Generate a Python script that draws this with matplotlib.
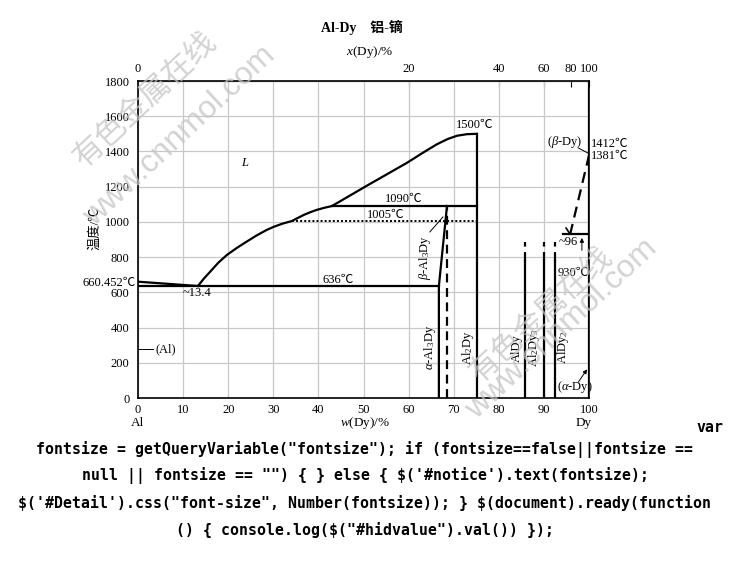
import matplotlib
matplotlib.use('Agg')
import matplotlib.pyplot as plt
import numpy as np

plt.rcParams['font.family'] = ['Liberation Serif', 'Noto Sans CJK SC', 'DejaVu Sans']
plt.rcParams['mathtext.fontset'] = 'custom'
plt.rcParams['mathtext.rm'] = 'Liberation Serif'
plt.rcParams['mathtext.it'] = 'Liberation Serif:italic'

# liquidus of the Al-rich side up to the Al2Dy maximum (w in wt.% Dy, t in C)
liquidus_w = [13.3, 14.6, 16.0, 17.8, 19.7, 21.9, 24.1, 26.3, 28.5, 30.1, 31.9, 34.1,
              35.4, 36.7, 38.2, 39.6, 41.3, 43.0, 50.7, 59.6, 63.0, 66.2,
              68.6, 70.7, 72.9, 75.1]
liquidus_t = [636, 678, 717, 768, 812, 852, 888, 923, 954, 972, 989, 1005,
              1022, 1039, 1055, 1068, 1080, 1090, 1205, 1335, 1390, 1440,
              1470, 1489, 1498, 1500]
al_liq_w = [0, 13.3]
al_liq_t = [660.452, 636]

eutectic_w = [0, 66.7]
eutectic_t = [636, 636]
peritectic_w = [43.0, 75.1]
peritectic_t = [1090, 1090]
transform_w = [34.1, 75.1]
transform_t = [1005, 1005]

al3dy_w = [66.7, 66.7, 68.5]
al3dy_t = [0, 636, 1090]
al3dy_dash_w = [68.5, 68.5]
al3dy_dash_t = [0, 1090]
al2dy_w = [75.1, 75.1]
al2dy_t = [0, 1500]

# compounds with uncertain melting (dashed top)
line_w = [85.8, 90.0, 92.5]
line_top = [886, 886, 886]
line_solid = [780, 780, 780]

dy_hline_w = [94.2, 100]
dy_hline_t = [930, 930]
dy_solvus_w = [100, 95.8]
dy_solvus_t = [1381, 930]
dy_short_w = [94.9, 95.8]
dy_short_t = [965, 930]

x_ticks_top = [0, 20, 40, 60, 80, 100]


def wt_to_at(w):
    w = np.asarray(w, dtype=float)
    a = w / 162.5
    b = (100 - w) / 26.98
    return 100 * a / np.where(a + b == 0, 1, a + b)


def at_to_wt(x):
    x = np.asarray(x, dtype=float)
    a = x * 162.5
    b = (100 - x) * 26.98
    return 100 * a / np.where(a + b == 0, 1, a + b)


fig = plt.figure(figsize=(7.3, 5.79), dpi=100)
ax = fig.add_axes([0.189, 0.3126, 0.618, 0.5475])
ax.set_xlim(0, 100)
ax.set_ylim(0, 1800)
ax.set_xticks(range(0, 101, 10))
ax.set_yticks(range(0, 1801, 200))
ax.grid(color='#c8c8c8', lw=0.9)
ax.set_axisbelow(True)
ax.tick_params(direction='in', length=0, labelsize=9)
ax.tick_params(axis='y', pad=6)
ax.tick_params(axis='x', pad=4)
for s in ax.spines.values():
    s.set_linewidth(1.2)

top = ax.secondary_xaxis('top', functions=(wt_to_at, at_to_wt))
top.set_xticks(x_ticks_top)
top.tick_params(direction='in', length=4, labelsize=9, pad=4)

lw = 1.6
ax.plot(liquidus_w, liquidus_t, color='k', lw=lw)
ax.plot(al_liq_w, al_liq_t, color='k', lw=lw)
ax.plot(eutectic_w, eutectic_t, color='k', lw=lw)
ax.plot(peritectic_w, peritectic_t, color='k', lw=lw)
ax.plot(transform_w, transform_t, color='k', lw=1.4, ls=(0, (1, 1.1)))
ax.plot(al3dy_w, al3dy_t, color='k', lw=lw)
ax.plot(al3dy_dash_w, al3dy_dash_t, color='k', lw=lw, ls=(0, (4, 2.5)))
ax.plot(al2dy_w, al2dy_t, color='k', lw=lw)
for w, t1, t2 in zip(line_w, line_top, line_solid):
    ax.plot([w, w], [t2, t1], color='k', lw=lw, ls=(0, (4, 2.5)))
    ax.plot([w, w], [0, t2], color='k', lw=lw)
ax.plot(dy_hline_w, dy_hline_t, color='k', lw=lw)
ax.plot(dy_solvus_w, dy_solvus_t, color='k', lw=lw, ls=(0, (5, 3)))
ax.plot(dy_short_w, dy_short_t, color='k', lw=1.2)
ax.plot([100, 100], [0, 1800], color='k', lw=lw)

# labels inside the diagram
fs = 9
ax.text(23.7, 1334, 'L', fontsize=fs, style='italic', ha='center', va='center')
ax.text(74.7, 1550, '1500℃', fontsize=fs, ha='center', va='center')
ax.text(58.8, 1130, '1090℃', fontsize=fs, ha='center', va='center')
ax.text(55.0, 1039, '1005℃', fontsize=fs, ha='center', va='center')
ax.text(44.3, 670, '636℃', fontsize=fs, ha='center', va='center')
ax.text(-0.6, 653, '660.452℃', fontsize=fs, ha='right', va='center', clip_on=False)
ax.text(13.1, 596, '~13.4', fontsize=fs, ha='center', va='center')
ax.text(63.6, 800, r'$\beta$-Al$_3$Dy', fontsize=fs, rotation=90, ha='center', va='center')
ax.text(64.7, 290, r'$\alpha$-Al$_3$Dy', fontsize=fs, rotation=90, ha='center', va='center')
ax.text(73.2, 284, r'Al$_2$Dy', fontsize=fs, rotation=90, ha='center', va='center')
ax.text(84.0, 284, 'AlDy', fontsize=fs, rotation=90, ha='center', va='center')
ax.text(87.8, 284, r'Al$_2$Dy$_3$', fontsize=fs, rotation=90, ha='center', va='center')
ax.text(94.2, 290, r'AlDy$_2$', fontsize=fs, rotation=90, ha='center', va='center')
ax.text(95.3, 886, '~96', fontsize=fs, ha='center', va='center')
ax.text(96.5, 710, '930℃', fontsize=fs, ha='center', va='center')
ax.text(94.5, 1455, r'($\beta$-Dy)', fontsize=fs, ha='center', va='center')
ax.text(100.3, 1440, '1412℃', fontsize=fs, ha='left', va='center', clip_on=False)
ax.text(100.3, 1372, '1381℃', fontsize=fs, ha='left', va='center', clip_on=False)
ax.text(96.8, 62, r'($\alpha$-Dy)', fontsize=fs, ha='center', va='center')
ax.text(3.8, 278, '(Al)', fontsize=fs, ha='left', va='center')

# leaders and arrows
thin = dict(color='k', lw=0.7)
ax.plot([64.7, 67.6], [943, 1028], **thin)
ax.plot([0, 3.4], [278, 278], **thin)
ax.plot([97.6, 99.8], [1420, 1390], **thin)
ax.annotate('', xy=(99.9, 176), xytext=(97.3, 79),
            arrowprops=dict(arrowstyle='-|>', lw=0.7, color='k', mutation_scale=6))
ax.annotate('', xy=(98.4, 925), xytext=(98.4, 823),
            arrowprops=dict(arrowstyle='-|>', lw=0.7, color='k', mutation_scale=6))

# figure texts
fig.text(0.496, 0.953, 'Al-Dy    铝-镝', fontsize=10, fontweight='bold', ha='center', va='center')
fig.text(0.507, 0.910, r'$x$(Dy)/%', fontsize=9.5, ha='center', va='center')
fig.text(0.5, 0.269, r'$w$(Dy)/%', fontsize=9.5, ha='center', va='center')
fig.text(0.189, 0.269, 'Al', fontsize=9.5, ha='center', va='center')
fig.text(0.800, 0.269, 'Dy', fontsize=9.5, ha='center', va='center')
fig.text(0.130, 0.605, '温度/℃', fontsize=9.5, rotation=90, ha='center', va='center')

# watermarks
wm = dict(color='#c4c4c4', alpha=0.75, ha='center', va='center', rotation=43,
          rotation_mode='anchor', zorder=10)
fig.text(0.199, 0.827, '有色金属在线', fontsize=22, family=['Noto Sans CJK SC'], **wm)
fig.text(0.246, 0.765, 'www.cnnmol.com', fontsize=23, family=['Liberation Sans'], **wm)
fig.text(0.742, 0.456, '有色金属在线', fontsize=22, family=['Noto Sans CJK SC'], **wm)
fig.text(0.769, 0.432, 'www.cnnmol.com', fontsize=23, family=['Liberation Sans'], **wm)

# trailing page script text
mono = dict(family=['DejaVu Sans Mono'], fontweight='bold', fontsize=10.7,
            ha='center', va='center', parse_math=False)
fig.text(0.973, 0.261, 'var', **mono)
js_lines = [
    'fontsize = getQueryVariable("fontsize"); if (fontsize==false||fontsize ==',
    'null || fontsize == "") { } else { $(\'#notice\').text(fontsize);',
    '$(\'#Detail\').css("font-size", Number(fontsize)); } $(document).ready(function',
    '() { console.log($("#hidvalue").val()) });',
]
for i, line in enumerate(js_lines):
    fig.text(0.5, 0.2245 - i * 0.0466, line, **mono)

fig.savefig('out.png', dpi=100)
